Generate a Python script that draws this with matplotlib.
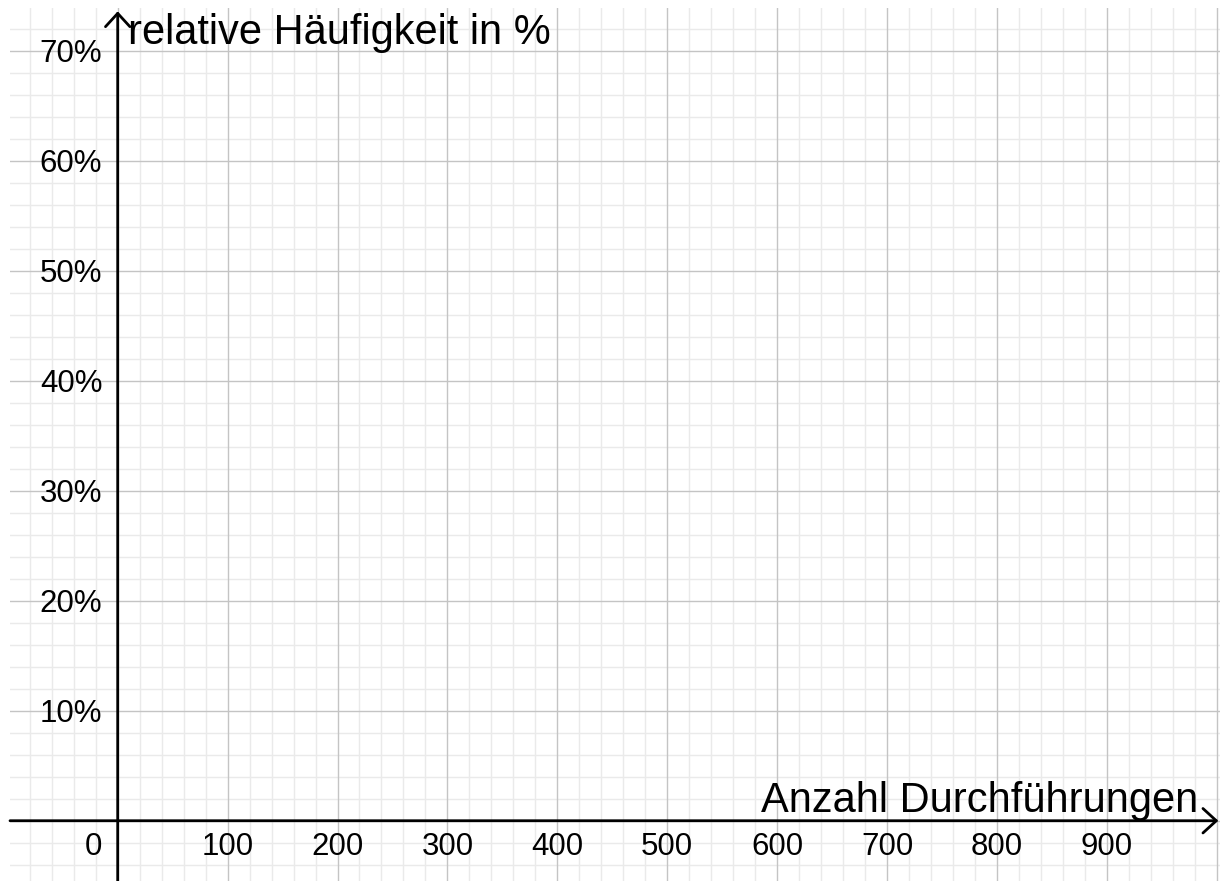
import numpy as np
import matplotlib.pyplot as plt

plt.rcParams['font.family'] = ['Liberation Sans', 'DejaVu Sans']

# axis ticks
x_ticks = [100, 200, 300, 400, 500, 600, 700, 800, 900]
y_ticks = [10, 20, 30, 40, 50, 60, 70]
y_labels = ["10%", "20%", "30%", "40%", "50%", "60%", "70%"]
x_title = "Anzahl Durchführungen"
y_title = "relative Häufigkeit in %"

fig = plt.figure(figsize=(12.24, 8.81), dpi=100)
ax = fig.add_axes([10 / 1224, 0, 1210 / 1224, 873 / 881])
ax.set_xlim(-98, 1003)
ax.set_ylim(-5.48, 73.9)

# grid
for xv in np.arange(-80, 1001, 20):
    major = xv % 100 == 0
    ax.axvline(xv, color='#c4c4c4' if major else '#eaeaea', lw=1.0, zorder=1 if major else 0)
for yv in np.arange(-4, 74, 2):
    major = yv % 10 == 0
    ax.axhline(yv, color='#c4c4c4' if major else '#eaeaea', lw=1.0, zorder=1 if major else 0)

for s in ax.spines.values():
    s.set_visible(False)
ax.set_xticks([])
ax.set_yticks([])

# axes with arrows
arr = dict(arrowstyle='->,head_length=0.6,head_width=0.55', color='black', lw=2.0,
           shrinkA=0, shrinkB=0, mutation_scale=16)
ax.annotate('', xy=(1001.5, 0), xytext=(-98, 0), arrowprops=arr, zorder=3)
ax.annotate('', xy=(0, 73.6), xytext=(0, -5.48), arrowprops=arr, zorder=3)

fs = 22.5
for xv in x_ticks:
    ax.text(xv, -2.4, str(xv), ha='center', va='center', fontsize=fs, zorder=4)
ax.text(-14, -2.4, "0", ha='right', va='center', fontsize=fs, zorder=4)
for yv, lab in zip(y_ticks, y_labels):
    ax.text(-14, yv - 0.25, lab, ha='right', va='center', fontsize=fs, zorder=4)

ax.text(9, 70.6, y_title, ha='left', va='baseline', fontsize=30, zorder=4)
ax.text(983, 0.8, x_title, ha='right', va='baseline', fontsize=30, zorder=4)

fig.savefig('out.png', dpi=100, facecolor='white')
